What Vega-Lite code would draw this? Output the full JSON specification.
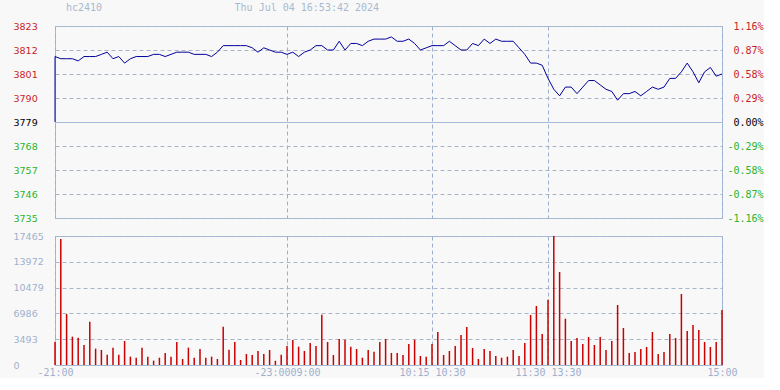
{
  "$schema": "https://vega.github.io/schema/vega-lite/v6.json",
  "background": "#f8f8f8",
  "padding": {"left": 12, "top": 2, "right": 0, "bottom": 0},
  "spacing": 6,
  "config": {
    "view": {"stroke": "#a4bcdc", "strokeWidth": 1},
    "axis": {"domain": false, "ticks": false, "title": null, "gridColor": "#a8b4c8", "gridDash": [4, 3], "gridWidth": 1, "labelFont": "DejaVu Sans", "labelFontSize": 9.5}
  },
  "datasets": {
    "d": [
      {"i":0,"t":0,"p":3779},
      {"i":1,"t":0,"p":3809,"v":3100},
      {"i":2,"t":3,"p":3808,"v":17060},
      {"i":3,"t":6,"p":3808,"v":6900},
      {"i":4,"t":9,"p":3808,"v":3840},
      {"i":5,"t":12,"p":3807,"v":3700},
      {"i":6,"t":15,"p":3809,"v":2700},
      {"i":7,"t":18,"p":3809,"v":5870},
      {"i":8,"t":21,"p":3809,"v":2210},
      {"i":9,"t":24,"p":3810,"v":2030},
      {"i":10,"t":27,"p":3811,"v":1400},
      {"i":11,"t":30,"p":3808,"v":2350},
      {"i":12,"t":33,"p":3809,"v":1400},
      {"i":13,"t":36,"p":3806,"v":3250},
      {"i":14,"t":39,"p":3808,"v":1130},
      {"i":15,"t":42,"p":3809,"v":990},
      {"i":16,"t":45,"p":3809,"v":2350},
      {"i":17,"t":48,"p":3809,"v":1130},
      {"i":18,"t":51,"p":3810,"v":590},
      {"i":19,"t":54,"p":3810,"v":990},
      {"i":20,"t":57,"p":3809,"v":1630},
      {"i":21,"t":60,"p":3810,"v":1130},
      {"i":22,"t":63,"p":3811,"v":3110},
      {"i":23,"t":66,"p":3811,"v":810},
      {"i":24,"t":69,"p":3811,"v":2350},
      {"i":25,"t":72,"p":3810,"v":990},
      {"i":26,"t":75,"p":3810,"v":2170},
      {"i":27,"t":78,"p":3810,"v":990},
      {"i":28,"t":81,"p":3809,"v":1130},
      {"i":29,"t":84,"p":3811,"v":810},
      {"i":30,"t":87,"p":3814,"v":5190},
      {"i":31,"t":90,"p":3814,"v":2080},
      {"i":32,"t":93,"p":3814,"v":3110},
      {"i":33,"t":96,"p":3814,"v":680},
      {"i":34,"t":99,"p":3814,"v":1490},
      {"i":35,"t":102,"p":3813,"v":1350},
      {"i":36,"t":105,"p":3811,"v":1900},
      {"i":37,"t":108,"p":3813,"v":1490},
      {"i":38,"t":111,"p":3812,"v":2030},
      {"i":39,"t":114,"p":3811,"v":570},
      {"i":40,"t":117,"p":3811,"v":1400},
      {"i":41,"t":120,"p":3810,"v":2570},
      {"i":42,"t":123,"p":3811,"v":3390},
      {"i":43,"t":126,"p":3809,"v":2480},
      {"i":44,"t":129,"p":3811,"v":1900},
      {"i":45,"t":132,"p":3812,"v":2980},
      {"i":46,"t":135,"p":3814,"v":2570},
      {"i":47,"t":138,"p":3814,"v":6820},
      {"i":48,"t":141,"p":3812,"v":3110},
      {"i":49,"t":144,"p":3812,"v":1350},
      {"i":50,"t":147,"p":3816,"v":3520},
      {"i":51,"t":150,"p":3812,"v":3430},
      {"i":52,"t":153,"p":3815,"v":2480},
      {"i":53,"t":156,"p":3815,"v":2170},
      {"i":54,"t":159,"p":3814,"v":990},
      {"i":55,"t":162,"p":3816,"v":2030},
      {"i":56,"t":165,"p":3817,"v":1810},
      {"i":57,"t":168,"p":3817,"v":3110},
      {"i":58,"t":171,"p":3817,"v":3520},
      {"i":59,"t":174,"p":3818,"v":1630},
      {"i":60,"t":177,"p":3816,"v":1630},
      {"i":61,"t":180,"p":3816,"v":1350},
      {"i":62,"t":183,"p":3817,"v":2840},
      {"i":63,"t":186,"p":3815,"v":3430},
      {"i":64,"t":189,"p":3812,"v":1220},
      {"i":65,"t":192,"p":3813,"v":1130},
      {"i":66,"t":195,"p":3814,"v":2840},
      {"i":67,"t":198,"p":3814,"v":4470},
      {"i":68,"t":201,"p":3814,"v":1350},
      {"i":69,"t":204,"p":3816,"v":1900},
      {"i":70,"t":207,"p":3814,"v":2570},
      {"i":71,"t":210,"p":3812,"v":4060},
      {"i":72,"t":213,"p":3812,"v":5150},
      {"i":73,"t":216,"p":3815,"v":2300},
      {"i":74,"t":219,"p":3814,"v":810},
      {"i":75,"t":222,"p":3817,"v":2170},
      {"i":76,"t":225,"p":3815,"v":1900},
      {"i":77,"t":228,"p":3817,"v":1220},
      {"i":78,"t":231,"p":3816,"v":990},
      {"i":79,"t":234,"p":3816,"v":1130},
      {"i":80,"t":237,"p":3816,"v":2030},
      {"i":81,"t":240,"p":3813,"v":1220},
      {"i":82,"t":243,"p":3810,"v":2980},
      {"i":83,"t":246,"p":3806,"v":6770},
      {"i":84,"t":249,"p":3806,"v":7990},
      {"i":85,"t":252,"p":3805,"v":4200},
      {"i":86,"t":255,"p":3799,"v":8850},
      {"i":87,"t":258,"p":3794,"v":17465},
      {"i":88,"t":261,"p":3791,"v":12590},
      {"i":89,"t":264,"p":3795,"v":6270},
      {"i":90,"t":267,"p":3795,"v":3250},
      {"i":91,"t":270,"p":3792,"v":3660},
      {"i":92,"t":273,"p":3795,"v":2840},
      {"i":93,"t":276,"p":3798,"v":3790},
      {"i":94,"t":279,"p":3798,"v":2710},
      {"i":95,"t":282,"p":3796,"v":3790},
      {"i":96,"t":285,"p":3794,"v":2030},
      {"i":97,"t":288,"p":3793,"v":3250},
      {"i":98,"t":291,"p":3789,"v":8120},
      {"i":99,"t":294,"p":3792,"v":5010},
      {"i":100,"t":297,"p":3792,"v":1630},
      {"i":101,"t":300,"p":3793,"v":1760},
      {"i":102,"t":303,"p":3791,"v":2170},
      {"i":103,"t":306,"p":3793,"v":2440},
      {"i":104,"t":309,"p":3795,"v":4470},
      {"i":105,"t":312,"p":3794,"v":1490},
      {"i":106,"t":315,"p":3795,"v":1760},
      {"i":107,"t":318,"p":3799,"v":4200},
      {"i":108,"t":321,"p":3799,"v":3660},
      {"i":109,"t":324,"p":3802,"v":9610},
      {"i":110,"t":327,"p":3806,"v":4600},
      {"i":111,"t":330,"p":3802,"v":5420},
      {"i":112,"t":333,"p":3797,"v":4740},
      {"i":113,"t":336,"p":3802,"v":3110},
      {"i":114,"t":339,"p":3804,"v":2440},
      {"i":115,"t":342,"p":3800,"v":3110},
      {"i":116,"t":345,"p":3801,"v":7450}
    ]
  },
  "vconcat": [
    {
      "width": 667,
      "height": 192,
      "title": {
        "text": "hc2410\u00a0\u00a0\u00a0\u00a0\u00a0\u00a0\u00a0\u00a0\u00a0\u00a0\u00a0\u00a0\u00a0\u00a0\u00a0\u00a0\u00a0\u00a0\u00a0\u00a0\u00a0\u00a0Thu Jul 04 16:53:42 2024",
        "anchor": "start",
        "frame": "group",
        "dx": 11,
        "offset": 0,
        "baseline": "alphabetic",
        "font": "DejaVu Sans Mono",
        "fontSize": 10,
        "fontWeight": "normal",
        "color": "#a8b8d0"
      },
      "data": {"name": "d"},
      "layer": [
        {
          "mark": {"type": "line", "color": "#00009c", "strokeWidth": 1},
          "encoding": {
            "x": {"field": "t", "type": "quantitative", "scale": {"domain": [0, 345], "nice": false, "zero": false, "padding": 0},
                  "axis": {"values": [0, 120, 195, 255, 345], "labels": false, "gridColor": "#9cb0cc", "minExtent": 0, "maxExtent": 0}},
            "y": {"field": "p", "type": "quantitative", "scale": {"domain": [3735, 3823], "nice": false, "zero": false},
                  "axis": {"orient": "left", "values": [3735, 3746, 3757, 3768, 3779, 3790, 3801, 3812, 3823], "format": "d",
                           "labelAlign": "left", "labelPadding": 42,
                           "labelColor": {"condition": [{"test": "datum.value > 3779", "value": "#c81e1e"}, {"test": "datum.value < 3779", "value": "#2ab52a"}], "value": "#000000"},
                           "gridDash": {"condition": {"test": "datum.value === 3779", "value": []}, "value": [4, 3]},
                           "gridColor": {"condition": {"test": "datum.value === 3779", "value": "#a4bcdc"}, "value": "#a8b4c8"}}},
            "order": {"field": "i", "type": "quantitative"}
          }
        },
        {
          "mark": {"type": "line", "opacity": 0},
          "encoding": {
            "x": {"field": "t", "type": "quantitative", "scale": {"domain": [0, 345], "nice": false, "zero": false, "padding": 0},
                  "axis": {"values": [0, 120, 195, 255, 345], "labels": false, "gridColor": "#9cb0cc", "minExtent": 0, "maxExtent": 0}},
            "y": {"field": "p", "type": "quantitative",
                  "axis": {"orient": "right", "grid": false, "values": [3735, 3746, 3757, 3768, 3779, 3790, 3801, 3812, 3823],
                           "labelAlign": "right", "labelPadding": 41, "labelFont": "DejaVu Sans Mono", "labelFontSize": 10,
                           "labelExpr": "(datum.value < 3779 ? '-' : '') + format(abs(datum.value - 3779) / 3779 * 100, '.2f') + '%'",
                           "labelColor": {"condition": [{"test": "datum.value > 3779", "value": "#c81e1e"}, {"test": "datum.value < 3779", "value": "#2ab52a"}], "value": "#000000"}}},
            "order": {"field": "i", "type": "quantitative"}
          }
        }
      ],
      "resolve": {"axis": {"y": "independent"}}
    },
    {
      "width": 667,
      "height": 129,
      "data": {"name": "d"},
      "transform": [{"filter": "datum.v != null"}],
      "mark": {"type": "bar", "size": 1.5, "color": "#c80000"},
      "encoding": {
        "x": {"field": "t", "type": "quantitative", "scale": {"domain": [0, 345], "nice": false, "zero": false, "padding": 0},
              "axis": {"values": [0, 120, 195, 255, 345], "gridColor": "#9cb0cc",
                       "labelExpr": "datum.value == 0 ? '-21:00' : datum.value == 120 ? '-23:0009:00' : datum.value == 195 ? '10:15 10:30' : datum.value == 255 ? '11:30 13:30' : '15:00'",
                       "labelFont": "DejaVu Sans Mono", "labelFontSize": 10, "labelColor": "#a0b0cc", "labelPadding": 2,
                       "labelOverlap": false, "labelFlush": false, "labelBound": false}},
        "y": {"field": "v", "type": "quantitative", "scale": {"domain": [0, 17465], "nice": false},
              "axis": {"values": [0, 3493, 6986, 10479, 13972, 17465], "format": "d", "labelAlign": "left", "labelPadding": 42, "labelColor": "#a0b0cc"}}
      }
    }
  ]
}
